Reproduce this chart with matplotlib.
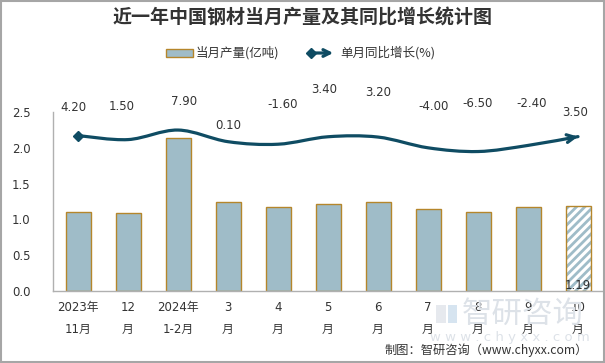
import numpy as np
import matplotlib
matplotlib.use("Agg")
import matplotlib.pyplot as plt
from matplotlib.path import Path
from matplotlib.patches import PathPatch, Rectangle, FancyArrowPatch

plt.rcParams['font.family'] = ['DejaVu Sans', 'Noto Sans CJK SC']
plt.rcParams['hatch.linewidth'] = 2.0

# data
months = ['2023年\n11月', '12\n月', '2024年\n1-2月', '3\n月', '4\n月', '5\n月',
          '6\n月', '7\n月', '8\n月', '9\n月', '10\n月']
output = [1.10, 1.09, 2.14, 1.24, 1.17, 1.22, 1.25, 1.14, 1.11, 1.17, 1.19]
yoy = [4.20, 1.50, 7.90, 0.10, -1.60, 3.40, 3.20, -4.00, -6.50, -2.40, 3.50]

# label offsets (pixels from the line point) - just layout
label_dy = [28, 33, 29, 16, 40, 47, 45, 41, 48, 42, 24]
label_dx = [-5, -6, 6, 0, 5, -4, 0, 6, 0, 4, -3]

bar_col = '#9fbcc8'
edge_col = '#b5862b'
line_col = '#0f4c63'
txt_col = '#333333'

fig = plt.figure(figsize=(6.05, 3.63), dpi=100)

# watermark (behind everything)
fig.add_artist(Rectangle((436 / 605, 1 - 323 / 363), 10 / 605, 18 / 363, transform=fig.transFigure,
                         facecolor='#e6e9ee', edgecolor='none', zorder=0))
fig.add_artist(Rectangle((448 / 605, 1 - 323 / 363), 9 / 605, 18 / 363, transform=fig.transFigure,
                         facecolor='#d6e4f0', edgecolor='none', zorder=0))
fig.text(462 / 605, 1 - 314 / 363, '智研咨询', ha='left', va='center', fontsize=22,
         color='#dde2e8', family=['Noto Sans CJK SC'], zorder=0)
fig.text(510 / 605, 1 - 338 / 363, 'w w w . c h y x x . c o m', ha='center', va='center', fontsize=9.5,
         color='#dde2e8', zorder=0)

ax = fig.add_axes([53 / 605, 1 - 291 / 363, 550 / 605, 179 / 363])
ax.patch.set_alpha(0)
x = np.arange(len(months))

ax.bar(x[:-1], output[:-1], width=0.5, color=bar_col, edgecolor=edge_col, linewidth=1.0, zorder=2)
# last month hatched (preliminary)
ax.bar(x[-1:], output[-1:], width=0.5, color='white', edgecolor=bar_col, hatch='////', linewidth=0, zorder=2)
ax.bar(x[-1:], output[-1:], width=0.5, fill=False, edgecolor=edge_col, linewidth=1.0, zorder=3)
ax.text(x[-1], 0.08, '%.2f' % output[-1], ha='center', va='center', fontsize=8.5, color=txt_col, zorder=4)

ax.set_xlim(-0.5, len(months) - 0.5)
ax.set_ylim(0, 2.5)
ax.set_yticks([0, 0.5, 1.0, 1.5, 2.0, 2.5])
ax.set_yticklabels(['0.0', '0.5', '1.0', '1.5', '2.0', '2.5'])
ax.set_xticks(x)
ax.set_xticklabels(months, linespacing=1.9)
ax.tick_params(axis='both', length=0, labelsize=8.5, labelcolor=txt_col)
ax.tick_params(axis='y', pad=16)
ax.tick_params(axis='x', pad=7)
for s in ['top', 'right']:
    ax.spines[s].set_visible(False)
for s in ['left', 'bottom']:
    ax.spines[s].set_color('#b0b0b0')
    ax.spines[s].set_linewidth(1.0)

# yoy line, smoothed, on hidden secondary axis
ax2 = ax.twinx()
ax2.set_ylim(-100, 20)
ax2.axis('off')
pts = np.column_stack([x, yoy]).astype(float)
verts = [pts[0]]
codes = [Path.MOVETO]
n = len(pts)
for i in range(n - 1):
    p0 = pts[max(i - 1, 0)]
    p1 = pts[i]
    p2 = pts[i + 1]
    p3 = pts[min(i + 2, n - 1)]
    c1 = p1 + (p2 - p0) / 6
    c2 = p2 - (p3 - p1) / 6
    verts += [c1, c2, p2]
    codes += [Path.CURVE4] * 3
ax2.add_patch(PathPatch(Path(verts, codes), fill=False, edgecolor=line_col, lw=2.3,
                        capstyle='round', zorder=5))
ax2.plot(x[0], yoy[0], marker='D', ms=5, color=line_col, zorder=6)
ax2.annotate('', xy=pts[-1], xytext=verts[-2],
             arrowprops=dict(arrowstyle='->', color=line_col, lw=2.3, mutation_scale=14,
                             shrinkA=0, shrinkB=0), zorder=6)

for i in range(n):
    ax2.annotate('%.2f' % yoy[i], xy=(x[i], yoy[i]), xytext=(label_dx[i], label_dy[i]),
                 textcoords='offset pixels', ha='center', va='center', fontsize=8.5,
                 color=txt_col, annotation_clip=False)

# title
fig.text(303 / 605, 1 - 18 / 363, '近一年中国钢材当月产量及其同比增长统计图', ha='center', va='center',
         fontsize=13.7, fontweight='bold', color='#333333', family=['Noto Sans CJK SC'])

# legend (drawn by hand)
ly = 1 - 53 / 363
fig.add_artist(Rectangle((166 / 605, ly - 4 / 363), 27 / 605, 8 / 363, transform=fig.transFigure,
                         facecolor=bar_col, edgecolor=edge_col, lw=1.0))
fig.text(196 / 605, ly, '当月产量(亿吨)', ha='left', va='center', fontsize=9, color=txt_col,
         family=['Noto Sans CJK SC', 'DejaVu Sans'])
fig.add_artist(FancyArrowPatch((311 / 605, ly), (336 / 605, ly), transform=fig.transFigure,
                               arrowstyle='->', color=line_col, lw=2.3, mutation_scale=12))
fig.add_artist(plt.Line2D([311 / 605], [ly], marker='D', ms=5, color=line_col,
                          transform=fig.transFigure))
fig.text(340 / 605, ly, '单月同比增长(%)', ha='left', va='center', fontsize=9, color=txt_col,
         family=['Noto Sans CJK SC', 'DejaVu Sans'])

# source
fig.text(588 / 605, 1 - 350 / 363, '制图：智研咨询（www.chyxx.com）', ha='right', va='center',
         fontsize=8.8, color=txt_col, family=['Noto Sans CJK SC', 'DejaVu Sans'])

# outer frame
fig.add_artist(Rectangle((0.001, 0.002), 0.997, 0.996, transform=fig.transFigure,
                         fill=False, edgecolor='#a6a6a6', lw=1.5))

fig.savefig('out.png', dpi=100)
